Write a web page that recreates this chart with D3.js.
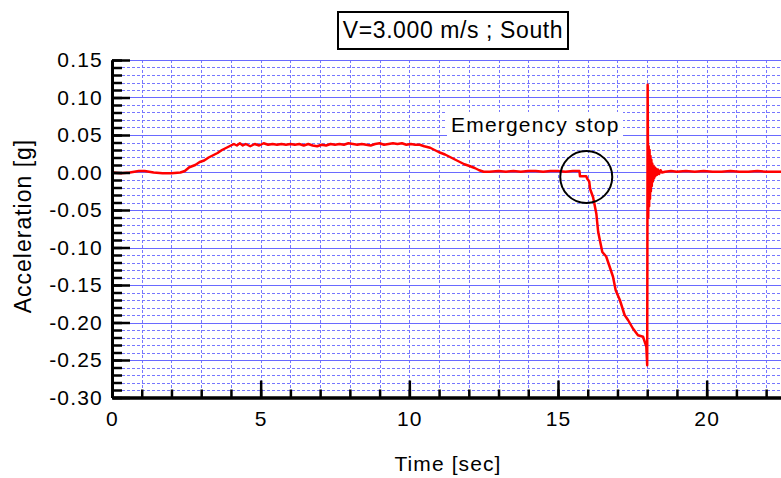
<!DOCTYPE html>
<html>
<head>
<meta charset="utf-8">
<title>Acceleration - emergency stop</title>
<script src="https://cdn.jsdelivr.net/npm/d3@7/dist/d3.min.js"></script>
<style>
  body { margin: 0; background: #fff; }
  svg text { font-family: "Liberation Sans", Arial, Helvetica, sans-serif; fill: #000; }
</style>
</head>
<body>
<script>
var timeSec = [
  0.0, 0.3, 0.6, 0.9, 1.1, 1.4, 1.7, 2.0, 2.3, 2.45,
  2.6, 2.8, 2.95, 3.1, 3.25, 3.4, 3.55, 3.7, 3.85, 4.0, 4.1,
  4.2, 4.3, 4.4, 4.5, 4.65, 4.8, 4.95, 5.1, 5.25, 5.4, 5.55, 5.7, 5.85, 6.0, 6.15, 6.3, 6.45, 6.6, 6.75, 6.9,
  7.05, 7.2, 7.35, 7.5, 7.65, 7.8, 7.95, 8.1, 8.25, 8.4, 8.55, 8.7, 8.85, 9.0, 9.15, 9.3, 9.45, 9.6, 9.75, 9.9,
  10.05, 10.2, 10.35,
  10.5, 10.7, 10.85, 11.0, 11.2, 11.35, 11.5, 11.7, 11.85, 12.0, 12.2, 12.35, 12.5, 12.7,
  13.0, 13.25, 13.5, 13.75, 14.0, 14.25, 14.5, 14.75, 15.0, 15.25, 15.5, 15.72,
  15.74, 15.95, 15.98, 16.05, 16.08, 16.18, 16.29, 16.35, 16.49, 16.62, 16.74, 16.85, 16.94, 17.08, 17.24,
  17.36, 17.52, 17.69, 17.86, 17.97, 18.0,
  18.015, 18.035, 18.05, 18.065, 18.08, 18.095, 18.11, 18.125, 18.14, 18.155, 18.17, 18.19, 18.21, 18.23,
  18.25, 18.27, 18.3, 18.33, 18.36, 18.4, 18.45, 18.5,
  18.6, 18.8, 19.0, 19.3, 19.6, 19.9, 20.2, 20.5, 20.8, 21.1, 21.4, 21.7, 22.0, 22.5
];
var accelG = [
  0.000, -0.001, 0.000, 0.002, 0.002, 0.000, -0.001, -0.001, 0.000, 0.002,
  0.007, 0.010, 0.014, 0.016, 0.020, 0.023, 0.026, 0.030, 0.033, 0.036, 0.038,
  0.036, 0.039, 0.036, 0.038, 0.035, 0.038, 0.036, 0.039, 0.037, 0.038, 0.037, 0.038, 0.037, 0.038, 0.037, 0.038, 0.036, 0.038, 0.036, 0.035,
  0.037, 0.036, 0.038, 0.037, 0.038, 0.037, 0.039, 0.038, 0.037, 0.038, 0.037, 0.036, 0.038, 0.039, 0.037, 0.038, 0.039, 0.038, 0.039, 0.037,
  0.038, 0.037, 0.037,
  0.035, 0.033, 0.030, 0.027, 0.024, 0.021, 0.018, 0.014, 0.011, 0.009, 0.006, 0.003, 0.001, 0.001,
  0.002, 0.001, 0.002, 0.001, 0.002, 0.002, 0.001, 0.002, 0.002, 0.001, 0.002, 0.002,
  -0.005, -0.005, -0.008, -0.012, -0.022, -0.033, -0.055, -0.079, -0.106, -0.112, -0.126, -0.139, -0.157, -0.170, -0.190,
  -0.197, -0.208, -0.217, -0.219, -0.232, -0.257,
  0.117, -0.060, 0.035, -0.045, 0.030, -0.035, 0.022, -0.025, 0.017, -0.018, 0.012, -0.012, 0.009, -0.008,
  0.007, -0.005, 0.005, -0.003, 0.004, -0.002, 0.003, 0.000,
  0.001, 0.002, 0.001, 0.002, 0.001, 0.002, 0.001, 0.001, 0.002, 0.001, 0.001, 0.002, 0.001, 0.001
];

var xMajorTicks = [0, 5, 10, 15, 20];
var xMinorTicks = d3.range(0, 23, 1);
var yMajorTicks = [-0.30, -0.25, -0.20, -0.15, -0.10, -0.05, 0.00, 0.05, 0.10, 0.15];
var yMinorTicks = d3.range(-30, 16).map(function(d){ return d / 100; });

var titleText = 'V=3.000 m/s ; South';
var noteText = 'Emergency stop';
var noteTime = 15.95, noteAccel = -0.006;

var W = 781, H = 478;
var plotLeft = 112, plotRight = 781, plotTop = 60, plotBottom = 397.5;

var svg = d3.select('body').append('svg').attr('width', W).attr('height', H);

var x = d3.scaleLinear().domain([0, 22.5]).range([plotLeft, plotRight]);
var y = d3.scaleLinear().domain([-0.30, 0.15]).range([plotBottom, plotTop]);

function py(d){ return Math.round(y(d)) + 0.5; }
function px(d){ return Math.round(x(d)) + 0.5; }
// plain hyphen minus, like the original plot
var fmtY = function(d){ return d3.format('.2f')(d).replace('\u2212', '-'); };

// grid
var grid = svg.append('g');
grid.selectAll('.hmin').data(yMinorTicks.filter(function(d){ return Math.round(d * 100) % 5 !== 0; }))
  .enter().append('line')
  .attr('x1', plotLeft).attr('x2', plotRight).attr('y1', py).attr('y2', py)
  .attr('stroke', '#7777ff').attr('stroke-width', 1).attr('stroke-dasharray', '3,2');
grid.selectAll('.vmin').data(xMinorTicks.filter(function(d){ return d > 0; }))
  .enter().append('line')
  .attr('y1', plotTop).attr('y2', plotBottom).attr('x1', px).attr('x2', px)
  .attr('stroke', '#7777ff').attr('stroke-width', 1).attr('stroke-dasharray', '3,2');
grid.selectAll('.hmaj').data(yMajorTicks.slice(1))
  .enter().append('line')
  .attr('x1', plotLeft).attr('x2', plotRight).attr('y1', py).attr('y2', py)
  .attr('stroke', '#6a6aff').attr('stroke-width', 1);

// note box behind text
svg.append('rect').attr('x', 447).attr('y', 112).attr('width', 176).attr('height', 27).attr('fill', '#fff');
svg.append('text').attr('x', 451).attr('y', 132).attr('font-size', 21).attr('letter-spacing', 1.2).text(noteText);

// trace
var pts = timeSec.map(function(t, i){ return [t, accelG[i]]; });
svg.append('path').datum(pts)
  .attr('fill', 'none').attr('stroke', '#ff0000').attr('stroke-width', 2.5).attr('stroke-linejoin', 'round')
  .attr('d', d3.line().x(function(d){ return x(d[0]); }).y(function(d){ return y(d[1]); }));

svg.append('circle').attr('cx', x(noteTime)).attr('cy', y(noteAccel)).attr('r', 26)
  .attr('fill', 'none').attr('stroke', '#000').attr('stroke-width', 2);

// axes
function styleAxis(g) {
  g.select('.domain').attr('stroke', '#000').attr('stroke-width', 3);
  g.selectAll('.tick line').attr('stroke', '#000').attr('stroke-width', 2.5);
  g.selectAll('text').attr('font-size', 21).attr('letter-spacing', 1.2)
    .attr('font-family', '"Liberation Sans", Arial, Helvetica, sans-serif');
}
svg.append('g').attr('transform', 'translate(' + plotLeft + ',0)')
  .call(d3.axisLeft(y).tickValues(yMinorTicks).tickSize(-10).tickSizeOuter(0).tickFormat(''))
  .call(styleAxis);
svg.append('g').attr('transform', 'translate(' + plotLeft + ',0)')
  .call(d3.axisLeft(y).tickValues(yMajorTicks).tickSize(-18).tickSizeOuter(0).tickPadding(9).tickFormat(fmtY))
  .call(styleAxis);
svg.append('g').attr('transform', 'translate(0,' + plotBottom + ')')
  .call(d3.axisBottom(x).tickValues(xMinorTicks).tickSize(-8).tickSizeOuter(0).tickFormat(''))
  .call(styleAxis);
svg.append('g').attr('transform', 'translate(0,' + plotBottom + ')')
  .call(d3.axisBottom(x).tickValues(xMajorTicks).tickSize(-17).tickSizeOuter(0).tickPadding(14).tickFormat(d3.format('d')))
  .call(styleAxis);

// title
svg.append('rect').attr('x', 338).attr('y', 12).attr('width', 230).attr('height', 37)
  .attr('fill', '#fff').attr('stroke', '#000').attr('stroke-width', 2);
svg.append('text').attr('x', 453).attr('y', 38).attr('text-anchor', 'middle')
  .attr('font-size', 23).attr('letter-spacing', 0.6).text(titleText);

// axis titles
svg.append('text').attr('x', 448).attr('y', 471).attr('text-anchor', 'middle')
  .attr('font-size', 21).attr('letter-spacing', 1.1).text('Time [sec]');
svg.append('text').attr('transform', 'translate(31,226) rotate(-90)').attr('text-anchor', 'middle')
  .attr('font-size', 23).attr('letter-spacing', 1).text('Acceleration [g]');
</script>
</body>
</html>
